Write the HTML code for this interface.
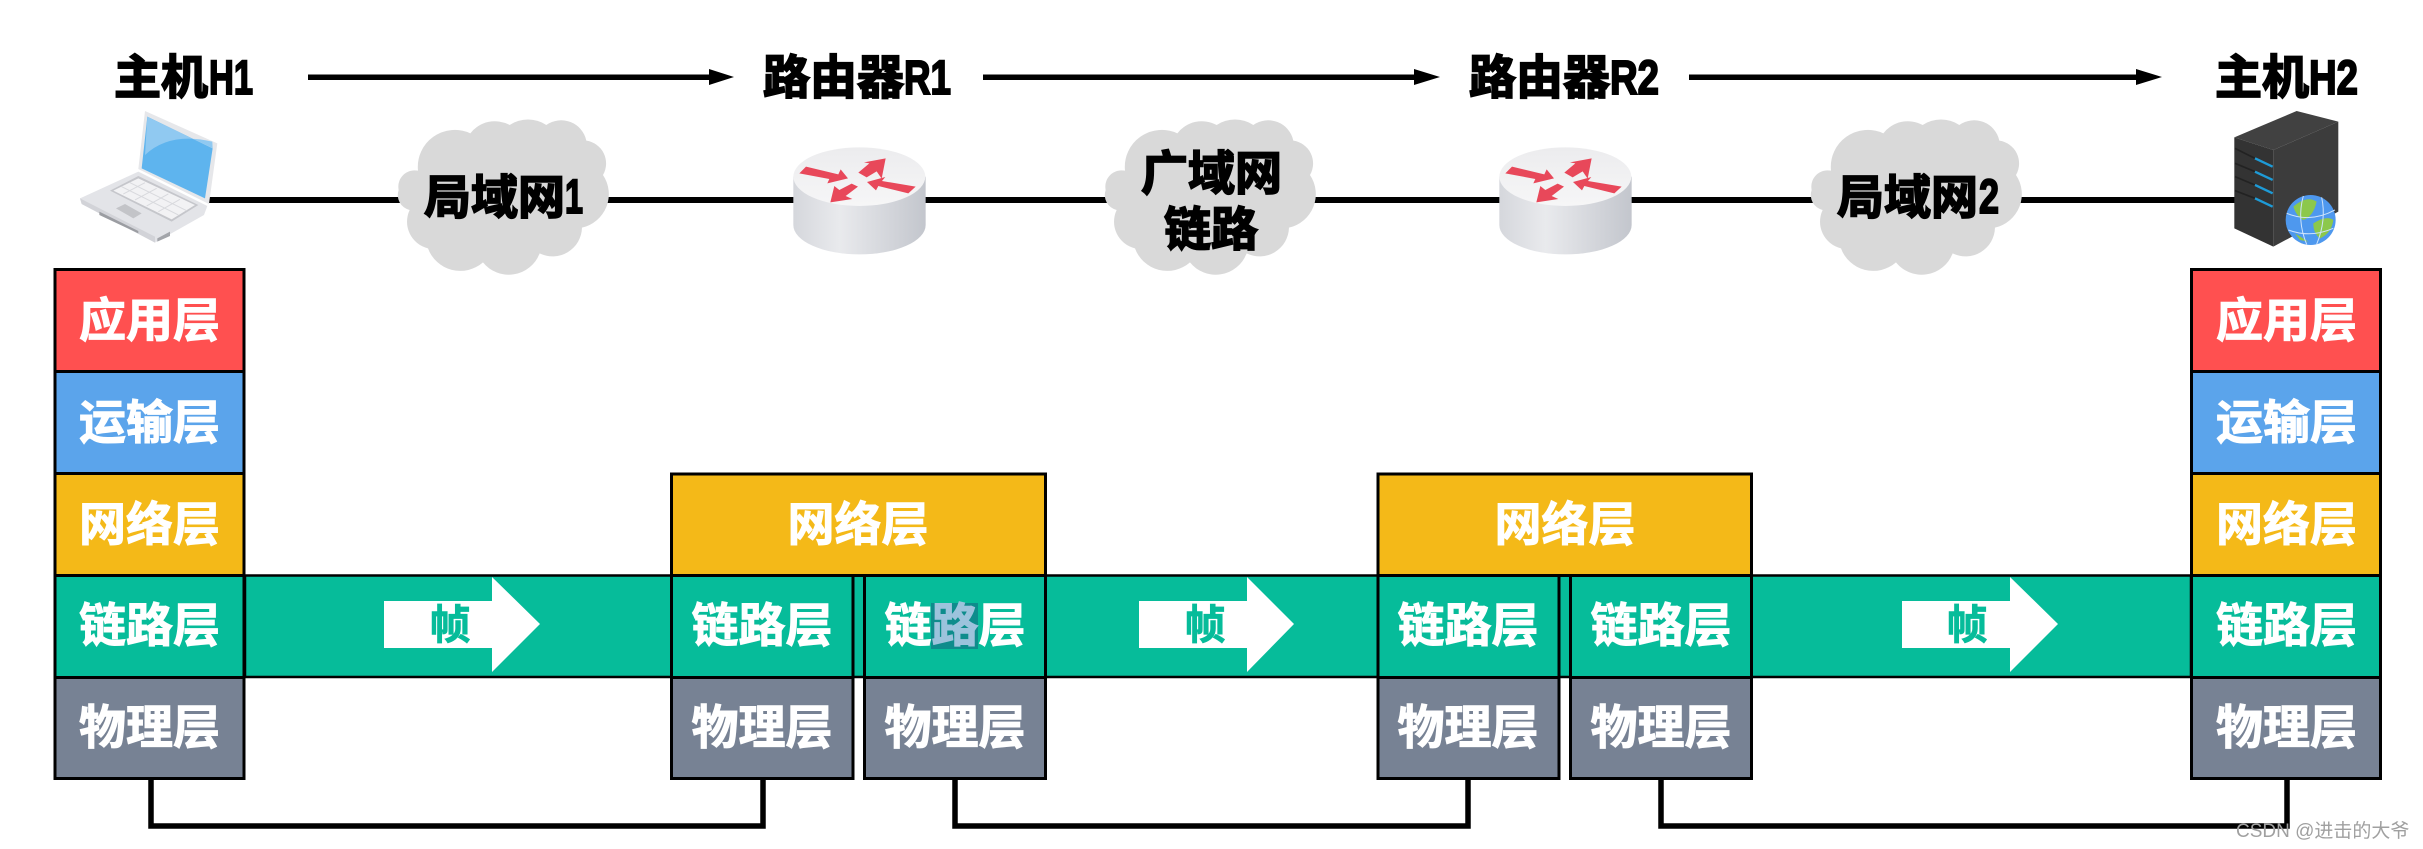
<!DOCTYPE html>
<html><head><meta charset="utf-8"><style>
html,body{margin:0;padding:0;background:#fff;width:2423px;height:849px;overflow:hidden}
svg{display:block}
text{font-family:"Liberation Sans","Noto Sans CJK SC",sans-serif;font-weight:700}
.w{fill:#fff;font-size:47px;text-anchor:middle;stroke:#fff;stroke-width:1px}
.k{fill:#000;font-size:47px;stroke:#000;stroke-width:1.8px}
.l{fill:#000;font-size:48px;stroke:#000;stroke-width:2px}
.f{fill:#06BC9A;font-size:41px;text-anchor:middle;stroke:#06BC9A;stroke-width:.8px}
.b{stroke:#000;stroke-width:3;}
</style></head><body>
<svg width="2423" height="849" viewBox="0 0 2423 849" xmlns="http://www.w3.org/2000/svg">
<defs>
<linearGradient id="side" x1="0" x2="1" y1="0" y2="0"><stop offset="0" stop-color="#d5d7dc"/><stop offset=".35" stop-color="#e9eaed"/><stop offset="1" stop-color="#c3c6cd"/></linearGradient>
<linearGradient id="top" x1="0" x2="0" y1="0" y2="1"><stop offset="0" stop-color="#ececee"/><stop offset="1" stop-color="#f6f6f7"/></linearGradient>
<path id="cloud" fill="#D9D9D9" d="M47 270A49 49 0 0 1 105 212A111 111 0 0 1 262 100A93 93 0 0 1 380 75A100 100 0 0 1 490 75A77 77 0 0 1 610 122A69 69 0 0 1 660 225A103 103 0 0 1 597 383A88 88 0 0 1 470 460A99 99 0 0 1 300 487A103 103 0 0 1 135 445A82 82 0 0 1 80 330A46 46 0 0 1 47 270Z"/>
<g id="router">
<path d="M70 140V285A198 88 0 0 0 467 285V140Z" fill="url(#side)"/>
<ellipse cx="268" cy="140" rx="198" ry="88" fill="url(#top)"/>
<g fill="#E8485A">
<polygon points="88,130 108,110 205,133 212,118 234,145 172,160 178,147"/>
<polygon points="265,128 298,100 282,97 347,85 335,146 320,124 290,142"/>
<polygon points="291,156 346,141 336,153 437,170 415,190 325,168 318,181"/>
<polygon points="181,217 193,168 208,180 245,161 264,170 227,198 247,207"/>
</g>
</g>
</defs>

<!-- network line -->
<rect x="209" y="197" width="2035" height="6" fill="#000"/>

<!-- top arrows -->
<g fill="#000">
<rect x="308" y="74.5" width="402" height="5.5"/><polygon points="709,69 734,77 709,85"/>
<rect x="983" y="74.5" width="432" height="5.5"/><polygon points="1414,69 1440,77 1414,85"/>
<rect x="1689" y="74.5" width="448" height="5.5"/><polygon points="2136,69 2162,77 2136,85"/>
</g>

<!-- clouds -->
<use href="#cloud" transform="translate(383,100) scale(.3333)"/>
<use href="#cloud" transform="translate(1090,100) scale(.3333)"/>
<use href="#cloud" transform="translate(1796,100) scale(.3333)"/>

<!-- routers -->
<use href="#router" transform="translate(770,130) scale(.3333)"/>
<use href="#router" transform="translate(1476,130) scale(.3333)"/>

<!-- laptop -->
<g transform="translate(70,100) scale(.3333)">
<polygon points="30,295 205,215 412,318 402,345 255,428 35,312" fill="#e3e4e8"/>
<polygon points="35,312 255,428 255,410 30,295" fill="#d2d3d8"/>
<polygon points="225,33 442,130 417,312 205,207" fill="#e6e7ea"/>
<polygon points="232,50 428,145 405,295 215,205" fill="#5EB4EE"/>
<path d="M232 50L428 145L427 125Q300 95 225 165Z" fill="#90C9F1"/>
<polygon points="120,272 205,228 385,315 305,365" fill="#c5c6cb"/>
<polygon points="130,272 205,235 375,315 305,358" fill="#f2f2f4"/>
<g stroke="#d8d9dd" stroke-width="3"><path d="M155 260L325 345M180 248L350 332M225 248L160 282M260 265L195 300M295 282L230 318M330 298L265 335"/></g>
<polygon points="138,325 165,312 215,340 190,355" fill="#c3c4c8"/>
<polygon points="88,335 205,393 205,400 88,345" fill="#9b9da2"/>
<polygon points="262,415 300,395 300,408 262,425" fill="#a3a5aa"/>
</g>

<!-- server -->
<g transform="translate(2100,60) scale(.3333)">
<polygon points="403,232 590,153 715,185 520,270" fill="#414141"/>
<polygon points="403,232 520,270 520,560 403,505" fill="#333"/>
<polygon points="520,270 715,185 715,455 520,560" fill="#3c3c3c"/>
<g stroke="#222" stroke-width="5"><path d="M405 265L465 295M405 310L465 335M405 350L465 375M405 392L465 415"/></g>
<g stroke="#1E9BD7" stroke-width="7"><path d="M465 295L518 320M465 335L518 360M465 375L518 400M465 415L518 440"/></g>
<circle cx="632" cy="480" r="75" fill="#4E98EE"/>
<path d="M580 440Q620 405 650 425Q640 470 610 480Q590 470 580 440ZM640 490Q680 465 700 480Q695 520 660 535Q640 520 640 490ZM585 520L625 545L600 540Z" fill="#8CC84B"/>
<g fill="none" stroke="#cfe4fb" stroke-width="3"><path d="M560 460Q632 490 705 450M565 510Q632 535 700 505M610 408Q590 480 620 553M665 412Q680 480 650 553"/></g>
</g>

<!-- green band -->
<rect x="245" y="575.5" width="1946" height="101.5" fill="#06BC9A" stroke="#000" stroke-width="2.5"/>

<!-- left stack -->
<g class="b">
<rect x="55" y="269.5" width="189" height="102" fill="#FF5050"/>
<rect x="55" y="371.5" width="189" height="102" fill="#5BA4EB"/>
<rect x="55" y="473.5" width="189" height="102" fill="#F4B918"/>
<rect x="55" y="575.5" width="189" height="102" fill="#06BC9A"/>
<rect x="55" y="677.5" width="189" height="101" fill="#778294"/>
</g>
<!-- right stack -->
<g class="b">
<rect x="2191.5" y="269.5" width="189" height="102" fill="#FF5050"/>
<rect x="2191.5" y="371.5" width="189" height="102" fill="#5BA4EB"/>
<rect x="2191.5" y="473.5" width="189" height="102" fill="#F4B918"/>
<rect x="2191.5" y="575.5" width="189" height="102" fill="#06BC9A"/>
<rect x="2191.5" y="677.5" width="189" height="101" fill="#778294"/>
</g>
<!-- router 1 stack -->
<g class="b">
<rect x="671.5" y="474" width="374" height="101.5" fill="#F4B918"/>
<rect x="671.5" y="575.5" width="181.5" height="102" fill="#06BC9A"/>
<rect x="864.5" y="575.5" width="181" height="102" fill="#06BC9A"/>
<rect x="671.5" y="677.5" width="181.5" height="101" fill="#778294"/>
<rect x="864.5" y="677.5" width="181" height="101" fill="#778294"/>
</g>
<!-- router 2 stack -->
<g class="b">
<rect x="1378" y="474" width="373.5" height="101.5" fill="#F4B918"/>
<rect x="1378" y="575.5" width="181" height="102" fill="#06BC9A"/>
<rect x="1570.5" y="575.5" width="181" height="102" fill="#06BC9A"/>
<rect x="1378" y="677.5" width="181" height="101" fill="#778294"/>
<rect x="1570.5" y="677.5" width="181" height="101" fill="#778294"/>
</g>

<!-- physical links -->
<g fill="none" stroke="#000" stroke-width="5.5">
<path d="M151 779V826H763V779"/>
<path d="M955 779V826H1468V779"/>
<path d="M1661 779V826H2287V779"/>
</g>

<!-- frame arrows -->
<g fill="#fff">
<polygon points="384,601 492,601 492,577 540,624 492,672 492,648 384,648"/>
<polygon points="1139,601 1247,601 1247,577 1294,624 1247,672 1247,648 1139,648"/>
<polygon points="1902,601 2010,601 2010,577 2058,624 2010,672 2010,648 1902,648"/>
</g>
<text class="f" x="450" y="639">帧</text>
<text class="f" x="1205" y="639">帧</text>
<text class="f" x="1967" y="639">帧</text>

<!-- selection highlight -->
<rect x="931" y="603" width="47" height="46" fill="#0E8C8C"/>

<!-- layer labels -->
<text class="w" x="149.5" y="337">应用层</text>
<text class="w" x="149.5" y="439">运输层</text>
<text class="w" x="149.5" y="541">网络层</text>
<text class="w" x="149.5" y="642">链路层</text>
<text class="w" x="149.5" y="744">物理层</text>

<text class="w" x="2286.5" y="337">应用层</text>
<text class="w" x="2286.5" y="439">运输层</text>
<text class="w" x="2286.5" y="541">网络层</text>
<text class="w" x="2286.5" y="642">链路层</text>
<text class="w" x="2286.5" y="744">物理层</text>

<text class="w" x="858" y="541">网络层</text>
<text class="w" x="762" y="642">链路层</text>
<text class="w" x="955" y="642">链<tspan fill="#9CC3DC" stroke="#9CC3DC">路</tspan>层</text>
<text class="w" x="762" y="744">物理层</text>
<text class="w" x="955" y="744">物理层</text>

<text class="w" x="1565" y="541">网络层</text>
<text class="w" x="1468" y="642">链路层</text>
<text class="w" x="1661" y="642">链路层</text>
<text class="w" x="1468" y="744">物理层</text>
<text class="w" x="1661" y="744">物理层</text>

<!-- top labels -->
<text class="k" x="114" y="94">主机</text>
<text class="l" x="209" y="94" textLength="44" lengthAdjust="spacingAndGlyphs">H1</text>
<text class="k" x="763" y="94">路由器</text>
<text class="l" x="904" y="94" textLength="47" lengthAdjust="spacingAndGlyphs">R1</text>
<text class="k" x="1469" y="94">路由器</text>
<text class="l" x="1610" y="94" textLength="49" lengthAdjust="spacingAndGlyphs">R2</text>
<text class="k" x="2215" y="94">主机</text>
<text class="l" x="2309" y="94" textLength="49" lengthAdjust="spacingAndGlyphs">H2</text>

<!-- cloud labels -->
<text class="k" x="424" y="214">局域网</text>
<text class="l" x="565" y="213" textLength="18" lengthAdjust="spacingAndGlyphs">1</text>
<text class="k" x="1141" y="190">广域网</text>
<text class="k" x="1164" y="246">链路</text>
<text class="k" x="1837" y="214">局域网</text>
<text class="l" x="1979" y="213" textLength="20" lengthAdjust="spacingAndGlyphs">2</text>

<!-- watermark -->
<text x="2236" y="837" font-size="19" fill="#a0a0a0" style="font-weight:400">CSDN @进击的大爷</text>
</svg>
</body></html>
